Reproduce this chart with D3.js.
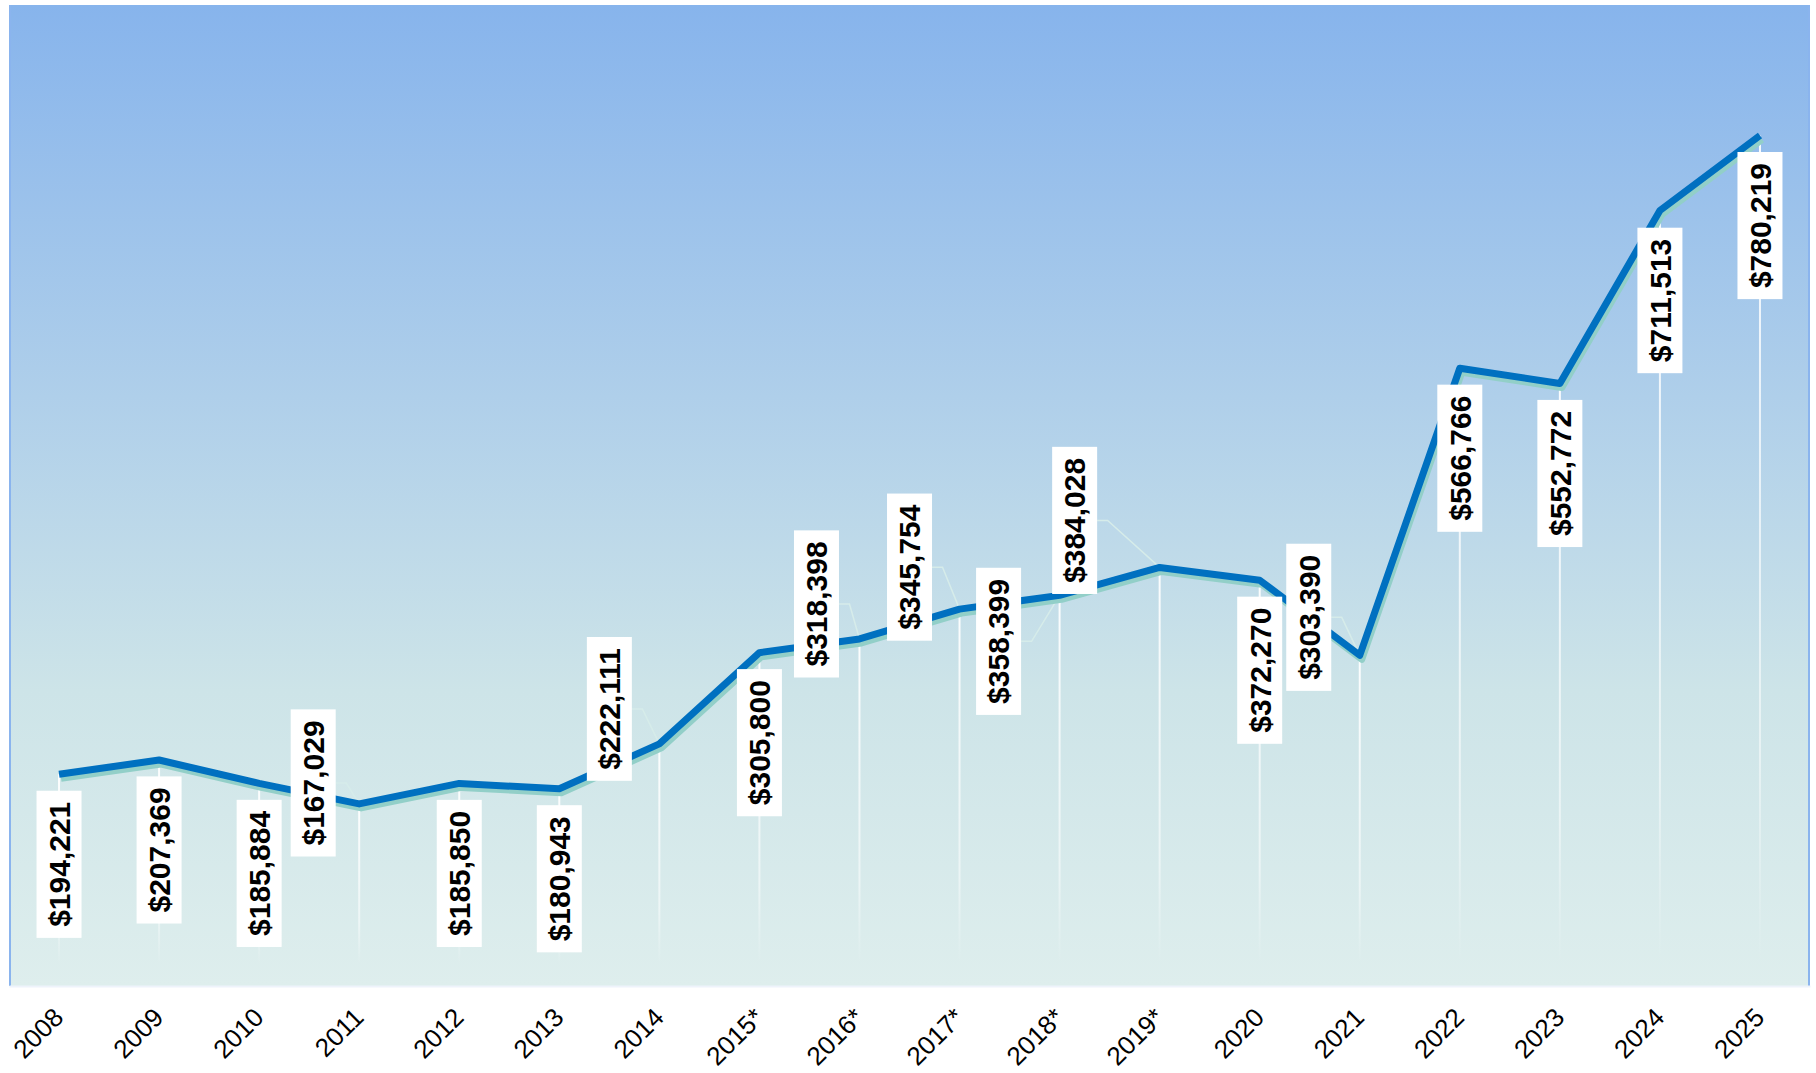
<!DOCTYPE html>
<html>
<head>
<meta charset="utf-8">
<script src="https://cdn.jsdelivr.net/npm/d3@7"></script>
<style>
  body { margin: 0; background: #fff; }
  svg { display: block; font-family: "Liberation Sans", Arial, sans-serif; }
</style>
</head>
<body>
<svg width="1816" height="1073"></svg>
<script>
const w = 1816;
const h = 1073;

var years = ['2008', '2009', '2010', '2011', '2012', '2013', '2014', '2015*', '2016*',
  '2017*', '2018*', '2019*', '2020', '2021', '2022', '2023', '2024', '2025'];
var prices = [194221, 207369, 185884, 167029, 185850, 180943, 222111, 305800, 318398,
  345754, 358399, 384028, 372270, 303390, 566766, 552772, 711513, 780219];

// labels that were pushed aside in the original (offset of box centre from the point)
var labelShift = {
  '2011': [-46, -21], '2014': [-50, -35], '2016*': [-43, -35], '2017*': [-50, -42],
  '2018*': [-61, 46], '2019*': [-85, -47], '2021': [-51, -38]
};

var svg = d3.select('svg');
const plotL = 9, plotR = 1810, plotT = 5, plotB = 986;

var x = d3.scaleBand().domain(years).range([plotL, plotR]);
var y = d3.scaleLinear().domain([0, 900000]).range([plotB, plotT]);
const cx = d => x(d) + x.bandwidth() / 2;

var defs = svg.append('defs');
var bg = defs.append('linearGradient').attr('id', 'bg')
  .attr('x1', 0).attr('y1', 0).attr('x2', 0).attr('y2', 1);
bg.append('stop').attr('offset', '0%').attr('stop-color', '#87b4ec');
bg.append('stop').attr('offset', '40%').attr('stop-color', '#afcfea');
bg.append('stop').attr('offset', '70%').attr('stop-color', '#cde4e8');
bg.append('stop').attr('offset', '100%').attr('stop-color', '#deeeed');

var drop = defs.append('linearGradient').attr('id', 'drop')
  .attr('x1', 0).attr('y1', 0).attr('x2', 0).attr('y2', 1);
drop.append('stop').attr('offset', '0%').attr('stop-color', '#fff').attr('stop-opacity', 0.95);
drop.append('stop').attr('offset', '75%').attr('stop-color', '#fff').attr('stop-opacity', 0.5);
drop.append('stop').attr('offset', '100%').attr('stop-color', '#fff').attr('stop-opacity', 0);

// plot area
svg.append('rect')
  .attr('x', plotL).attr('y', plotT)
  .attr('width', plotR - plotL).attr('height', plotB - plotT)
  .attr('fill', 'url(#bg)');
svg.append('line').attr('x1', plotL + 1).attr('x2', plotL + 1).attr('y1', plotT).attr('y2', plotB)
  .attr('stroke', '#8ab4ee').attr('stroke-width', 2);
svg.append('line').attr('x1', plotR - 1).attr('x2', plotR - 1).attr('y1', plotT).attr('y2', plotB)
  .attr('stroke', '#8ab4ee').attr('stroke-width', 2);

// drop lines
svg.selectAll('rect.drop').data(years).enter()
  .append('rect').attr('class', 'drop')
  .attr('x', d => cx(d) - 1)
  .attr('y', (d, i) => y(prices[i]))
  .attr('width', 2)
  .attr('height', (d, i) => plotB - 22 - y(prices[i]))
  .attr('fill', 'url(#drop)');

// x axis
var xAxis = svg.append('g')
  .attr('transform', `translate(0,${plotB})`)
  .call(d3.axisBottom(x).tickSize(0).tickPadding(0));
xAxis.select('.domain').attr('stroke', '#eef3fb').attr('stroke-width', 2);
xAxis.selectAll('.tick text')
  .attr('font-size', 26)
  .attr('font-family', '"Liberation Sans", Arial, sans-serif')
  .attr('fill', '#000')
  .attr('text-anchor', 'end')
  .attr('dy', 0)
  .attr('transform', 'translate(6,33) rotate(-45)');

// line with its shadow
var line = d3.line().x((d, i) => cx(years[i])).y(d => y(d));
var lineG = svg.append('g');
lineG.append('path').datum(prices)
  .attr('d', line)
  .attr('transform', 'translate(2,4)')
  .attr('fill', 'none')
  .attr('stroke', '#92cfc8')
  .attr('stroke-width', 7)
  .attr('stroke-linejoin', 'round');
lineG.append('path').datum(prices)
  .attr('d', line)
  .attr('fill', 'none')
  .attr('stroke', '#0070c0')
  .attr('stroke-width', 7)
  .attr('stroke-linejoin', 'round');

// data labels
const fmt = d3.format('$,');
var leaders = svg.insert('g', () => lineG.node());
var labels = svg.append('g');
years.forEach((yr, i) => {
  let px = cx(yr), py = y(prices[i]);
  let s = labelShift[yr] || [0, 90];
  let lx = px + s[0], ly = py + s[1];
  let g = labels.append('g');
  let t = g.append('text')
    .attr('transform', `translate(${lx},${ly}) rotate(-90)`)
    .attr('text-anchor', 'middle')
    .attr('dy', '0.36em')
    .attr('font-size', 30)
    .attr('font-weight', 'bold')
    .attr('fill', '#000')
    .text(fmt(prices[i]));
  let len = t.node().getComputedTextLength() + 22;
  g.insert('rect', 'text')
    .attr('x', lx - 22.5).attr('y', ly - len / 2)
    .attr('width', 45).attr('height', len)
    .attr('fill', '#fff');
  if (labelShift[yr]) {
    leaders.append('polyline')
      .attr('points', [[lx + 22.5, ly], [lx + 33, ly], [px, py]].join(' '))
      .attr('fill', 'none')
      .attr('stroke', '#d6ecea')
      .attr('stroke-width', 1.5);
  }
});
</script>
</body>
</html>
